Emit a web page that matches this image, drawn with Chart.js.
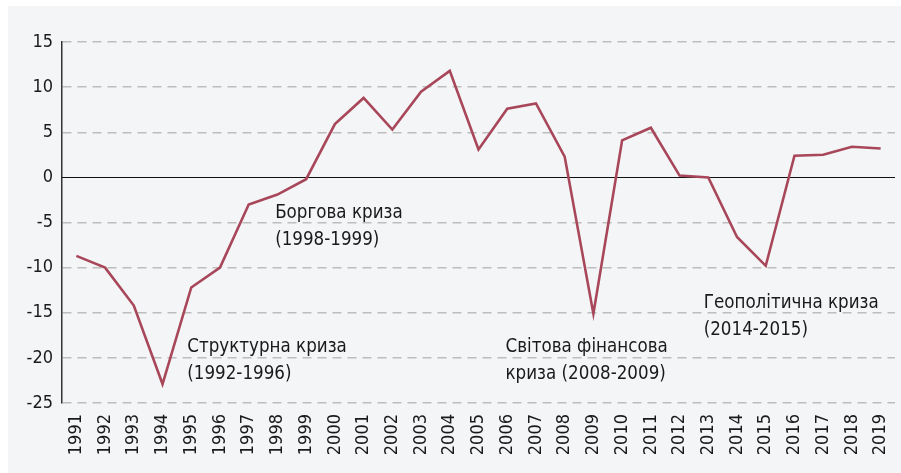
<!DOCTYPE html>
<html><head><meta charset="utf-8">
<script src="https://cdn.jsdelivr.net/npm/chart.js@4"></script>
<style>html,body{margin:0;padding:0;background:#fff;}#wrap{width:901px;height:473px;position:relative;}</style>
</head><body><div id="wrap"><canvas id="c" width="901" height="473"></canvas></div>
<script>
const years = ['1991','1992','1993','1994','1995','1996','1997','1998','1999','2000','2001','2002','2003','2004','2005','2006','2007','2008','2009','2010','2011','2012','2013','2014','2015','2016','2017','2018','2019'];
const gdpGrowth = [-8.7,-10.0,-14.2,-22.9,-12.2,-10.0,-3.0,-1.9,-0.2,5.9,8.8,5.3,9.5,11.8,3.1,7.6,8.2,2.3,-15.1,4.1,5.5,0.2,0.0,-6.6,-9.8,2.4,2.5,3.4,3.2];
const yTicks = [15,10,5,0,-5,-10,-15,-20,-25];
const annotLines = [['Боргова криза','(1998-1999)'],['Структурна криза','(1992-1996)'],['Світова фінансова','криза (2008-2009)'],['Геополітична криза','(2014-2015)']];
const annotAnchorCat = [6.92, 3.86, 14.94, 21.84];
const annotAnchorVal = [-3.9, -18.8, -18.8, -13.9];

const FONT = "'DejaVu Sans Condensed','Roboto',sans-serif";

const panelPlugin = {
  id:'panel',
  beforeDraw(chart){
    const ctx = chart.ctx;
    ctx.save();
    ctx.fillStyle = '#f4f5f7';
    ctx.fillRect(8,6,chart.width-8,chart.height-6);
    ctx.restore();
  },
  beforeDatasetsDraw(chart){
    const {ctx, chartArea, scales} = chart;
    const y0 = Math.round(scales.y.getPixelForValue(0)) + 0.5;
    ctx.save();
    ctx.strokeStyle = '#111';
    ctx.lineWidth = 1.2;
    ctx.beginPath();
    ctx.moveTo(chartArea.left, y0);
    ctx.lineTo(chartArea.right, y0);
    ctx.stroke();
    ctx.restore();
  },
  afterDatasetsDraw(chart){
    const {ctx, scales} = chart;
    ctx.save();
    ctx.fillStyle = '#1a1a1a';
    ctx.font = "20px " + FONT;
    ctx.textAlign = 'left';
    ctx.textBaseline = 'middle';
    annotLines.forEach((lines, i) => {
      const x = scales.x.getPixelForValue(annotAnchorCat[i]);
      const y = scales.y.getPixelForValue(annotAnchorVal[i]);
      lines.forEach((t, j) => {
        ctx.save();
        ctx.translate(x, y + j*27);
        ctx.scale(0.93, 1);
        ctx.fillText(t, 0, 0);
        ctx.restore();
      });
    });
    ctx.restore();
  }
};

new Chart(document.getElementById('c'), {
  type:'line',
  data:{labels:years, datasets:[{data:gdpGrowth, borderColor:'#a8475a', borderWidth:2.6, pointRadius:0, tension:0, fill:false}]},
  options:{
    responsive:false, animation:false, devicePixelRatio:1,
    layout:{padding:{top:42,right:6,left:0,bottom:0}},
    plugins:{legend:{display:false}, tooltip:{enabled:false}},
    scales:{
      x:{
        offset:true,
        grid:{display:false, drawTicks:false},
        border:{display:false},
        ticks:{font:{family:FONT,size:18}, color:'#1a1a1a', minRotation:90, maxRotation:90, padding:11, autoSkip:false},
        afterFit(s){ s.height = 70; s.paddingLeft = 0; s.paddingRight = 0; }
      },
      y:{
        min:-25, max:15,
        afterBuildTicks(s){ s.ticks = yTicks.map(v=>({value:v})); },
        grid:{color:c => c.tick && c.tick.value===0 ? 'rgba(0,0,0,0)' : '#bdbdbd', lineWidth:1.5, drawTicks:false},
        border:{display:true, color:'#333', width:1.5, dash:[9,6]},
        ticks:{font:{family:FONT,size:18}, color:'#1a1a1a', padding:9},
        afterFit(s){ s.width = 62; s.paddingTop = 0; s.paddingBottom = 0; }
      }
    }
  },
  plugins:[panelPlugin]
});
</script></body></html>
